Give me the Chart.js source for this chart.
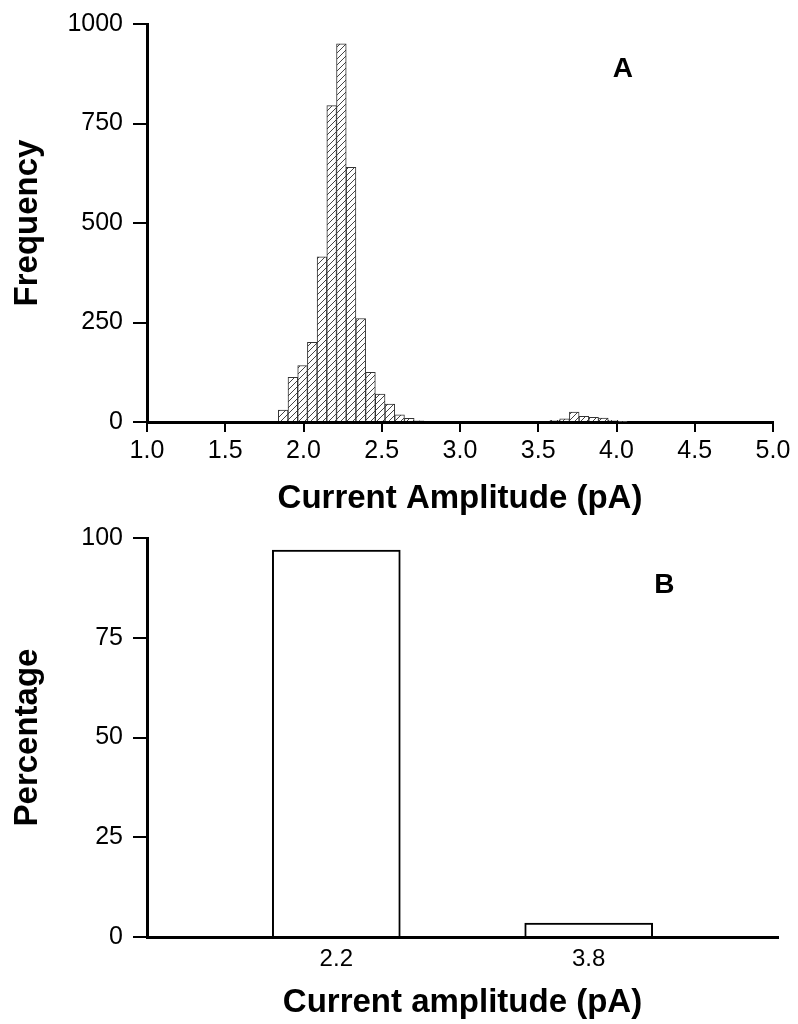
<!DOCTYPE html>
<html>
<head>
<meta charset="utf-8">
<script src="https://cdn.jsdelivr.net/npm/chart.js@4.4.1/dist/chart.umd.min.js"></script>
<style>
  html, body { margin: 0; padding: 0; background: #fff; }
  .panel { position: relative; width: 798px; }
  #panelA { height: 520px; }
  #panelB { height: 504px; }
</style>
</head>
<body>
<div class="panel" id="panelA"><canvas id="histChart"></canvas></div>
<div class="panel" id="panelB"><canvas id="pctChart"></canvas></div>

<script>
// Panel A: amplitude histogram (bin centres in pA, counts)
const histBins = [1.870, 1.932, 1.994, 2.056, 2.118, 2.180, 2.242, 2.304, 2.366, 2.428, 2.490, 2.552, 2.614, 2.676, 2.738,
                  3.606, 3.668, 3.730, 3.792, 3.854, 3.916, 3.978, 4.040]
const histCounts = [30, 112, 142, 200, 415, 795, 950, 640, 260, 125, 70, 45, 18, 9, 3,
                    4, 8, 25, 14, 12, 10, 4, 2]
const histXTicks = [1.0, 1.5, 2.0, 2.5, 3.0, 3.5, 4.0, 4.5, 5.0]
const histYTicks = [0, 250, 500, 750, 1000]

// Panel B: percentage of events per amplitude level
const levelAmps = [2.2, 3.8]
const levelPercent = [97, 3.5]
const pctYTicks = [0, 25, 50, 75, 100]

const FONT = "'Liberation Sans', Arial, Helvetica, sans-serif"

// hatched fill like the printed histogram
function hatchPattern() {
  const c = document.createElement("canvas")
  c.width = 6
  c.height = 6
  const g = c.getContext("2d")
  g.fillStyle = "#fff"
  g.fillRect(0, 0, 6, 6)
  g.strokeStyle = "#444"
  g.lineWidth = 1
  g.beginPath()
  g.moveTo(0, 6)
  g.lineTo(6, 0)
  g.stroke()
  return g.createPattern(c, "repeat")
}

// panel letter (A / B) drawn inside the plot area
const panelLetter = {
  id: "panelLetter",
  afterDraw(chart, args, opts) {
    const { ctx, chartArea } = chart
    ctx.save()
    ctx.font = "bold 28px " + FONT
    ctx.fillStyle = "#000"
    ctx.textAlign = "center"
    ctx.textBaseline = "middle"
    ctx.fillText(opts.text,
      chartArea.left + chartArea.width * opts.fx,
      chartArea.top + chartArea.height * opts.fy)
    ctx.restore()
  }
}

function yAxis(ticks, title, width) {
  return {
    min: ticks[0],
    max: ticks[ticks.length - 1],
    afterBuildTicks: s => { s.ticks = ticks.map(v => ({ value: v })) },
    afterFit: s => { s.width = width },
    // small lineHeight so the top label does not push the plot area down
    ticks: { color: "#000", font: { size: 25, family: FONT, lineHeight: 0.6 }, padding: 10, callback: v => String(v) },
    grid: { drawOnChartArea: false, color: "#000", lineWidth: 2, tickLength: 14 },
    border: { color: "#000", width: 3 },
    title: {
      display: true, text: title, color: "#000",
      font: { size: 33, weight: "bold", family: FONT },
      padding: { top: 8, bottom: 0 }
    }
  }
}

Chart.register(panelLetter)

const histChart = new Chart(document.getElementById("histChart"), {
  type: "bar",
  data: {
    datasets: [{
      data: histBins.map((x, i) => ({ x, y: histCounts[i] })),
      backgroundColor: hatchPattern(),
      borderColor: "#333",
      borderWidth: 1,
      categoryPercentage: 1,
      barPercentage: 1
    }]
  },
  options: {
    responsive: true,
    maintainAspectRatio: false,
    animation: false,
    layout: { padding: { top: 24, right: 25, left: 0, bottom: 0 } },
    plugins: {
      legend: { display: false },
      tooltip: { enabled: false },
      panelLetter: { text: "A", fx: 0.76, fy: 0.115 }
    },
    scales: {
      x: {
        type: "linear",
        min: 1,
        max: 5,
        offset: false,
        afterBuildTicks: s => { s.ticks = histXTicks.map(v => ({ value: v })) },
        afterFit: s => { s.height = 98 },
        ticks: {
          color: "#000", font: { size: 25, family: FONT }, padding: 4,
          callback: v => v.toFixed(1)
        },
        grid: { offset: false, drawOnChartArea: false, color: "#000", lineWidth: 2, tickLength: 10 },
        border: { color: "#000", width: 3 },
        title: {
          display: true, text: "Current Amplitude (pA)", color: "#000",
          font: { size: 33, weight: "bold", family: FONT },
          padding: { top: 2, bottom: 1 }
        }
      },
      y: yAxis(histYTicks, "Frequency", 147)
    }
  }
})

const pctChart = new Chart(document.getElementById("pctChart"), {
  type: "bar",
  data: {
    datasets: [{
      data: levelAmps.map((x, i) => ({ x, y: levelPercent[i] })),
      backgroundColor: "#fff",
      borderColor: "#000",
      borderWidth: 2,
      barThickness: 128
    }]
  },
  options: {
    responsive: true,
    maintainAspectRatio: false,
    animation: false,
    layout: { padding: { top: 18, right: 20, left: 0, bottom: 0 } },
    plugins: {
      legend: { display: false },
      tooltip: { enabled: false },
      panelLetter: { text: "B", fx: 0.82, fy: 0.118 }
    },
    scales: {
      x: {
        type: "linear",
        min: 1,
        max: 5,
        offset: false,
        afterBuildTicks: s => { s.ticks = levelAmps.map(v => ({ value: v })) },
        afterFit: s => { s.height = 87 },
        ticks: {
          color: "#000", font: { size: 24, family: FONT }, padding: 8,
          callback: v => v.toFixed(1)
        },
        grid: { offset: false, drawOnChartArea: false, drawTicks: false, color: "#000" },
        border: { color: "#000", width: 3 },
        title: {
          display: true, text: "Current amplitude (pA)", color: "#000",
          font: { size: 33, weight: "bold", family: FONT },
          padding: { top: 2, bottom: 1 }
        }
      },
      y: yAxis(pctYTicks, "Percentage", 147)
    }
  }
})
</script>
</body>
</html>
